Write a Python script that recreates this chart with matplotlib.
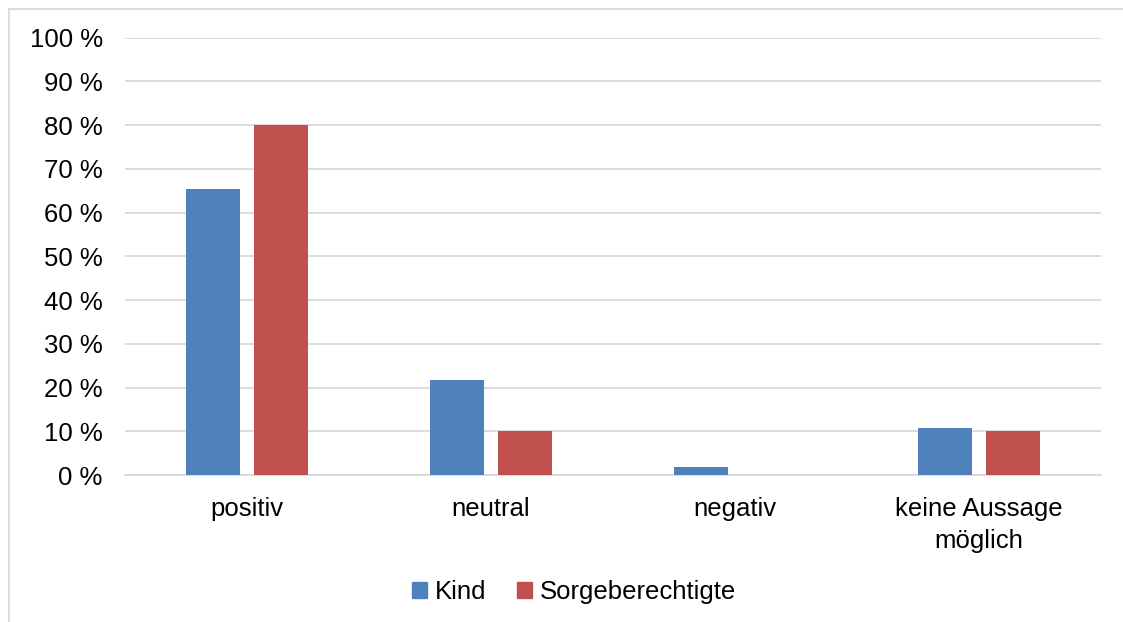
import matplotlib
matplotlib.use("Agg")
import matplotlib.pyplot as plt
import numpy as np
from matplotlib.patches import Patch
from matplotlib.lines import Line2D

categories = ["positiv", "neutral", "negativ", "keine Aussage\nmöglich"]
kind = [65.4, 21.7, 1.8, 10.8]
sorge = [80.0, 10.0, 0.0, 10.0]
yticks = [0, 10, 20, 30, 40, 50, 60, 70, 80, 90, 100]
series_names = ["Kind", "Sorgeberechtigte"]

plt.rcParams['font.family'] = ['Liberation Sans', 'DejaVu Sans']

fig = plt.figure(figsize=(11.23, 6.22), dpi=100)
ax = fig.add_axes([125/1123, 1-475.2/622, (1101-125)/1123, (475.2-37.5)/622])

x = np.arange(len(categories))
w = 0.221
off = 0.141
blue = "#4f81bd"
red = "#c0504d"
ax.bar(x - off, kind, w, color=blue, zorder=3)
ax.bar(x + off, sorge, w, color=red, zorder=3)

ax.set_xlim(-0.5, len(categories) - 0.5)
ax.set_ylim(0, 100)
ax.set_yticks(yticks)
ax.set_yticklabels([f"{v} %" for v in yticks])
ax.set_xticks(x)
ax.set_xticklabels(categories, linespacing=1.4)
ax.yaxis.grid(True, color="#d9d9d9", linewidth=1.3, zorder=0)
for s in ["top", "right", "left"]:
    ax.spines[s].set_visible(False)
ax.spines["bottom"].set_color("#d9d9d9")
ax.spines["bottom"].set_linewidth(1.3)
ax.tick_params(axis="both", length=0, labelsize=18.5, colors="black")
ax.tick_params(axis="y", pad=16)
ax.tick_params(axis="x", pad=16)

handles = [Patch(color=blue), Patch(color=red)]
fig.legend(handles, series_names, loc="center", bbox_to_anchor=(574/1123, 1-592/622),
           ncol=2, frameon=False, fontsize=18.5, handlelength=0.6, handleheight=0.6,
           handletextpad=0.3, columnspacing=1.2)

# outer chart border
fig.add_artist(Line2D([9/1123, 9/1123], [0, 1-9/622], transform=fig.transFigure, color="#d9d9d9", lw=1.3))
fig.add_artist(Line2D([9/1123, 1], [1-9/622, 1-9/622], transform=fig.transFigure, color="#d9d9d9", lw=1.3))

fig.savefig("out.png", dpi=100)
